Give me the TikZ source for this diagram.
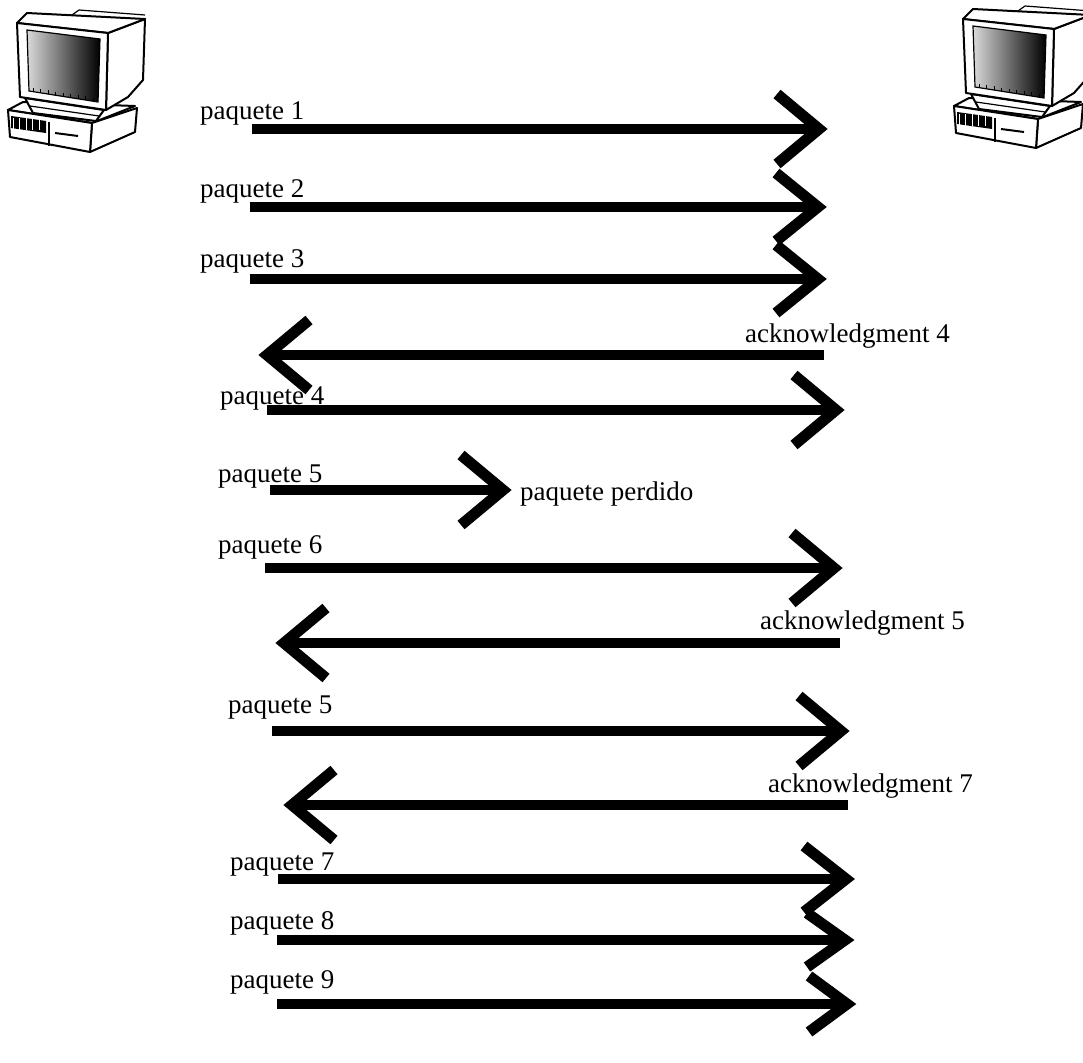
\documentclass[tikz,border=0pt]{standalone}
\usepackage{fontspec}
\setmainfont{Liberation Serif}
\usetikzlibrary{calc}
\begin{document}
\begin{tikzpicture}[x=1pt,y=-1pt,
  shaft/.style={line width=10pt, line cap=butt},
  barb/.style={line width=11pt, line cap=butt, line join=miter},
  lbl/.style={anchor=base west, inner sep=0pt, font=\fontsize{27}{27}\selectfont},
  pcline/.style={line width=2pt, line join=round, fill=white},
  computer/.pic={
    % desktop base unit
    \draw[pcline] (8,110) -- (23,102) -- (135,106) -- (92,123) -- cycle;
    \draw[pcline] (92,123) -- (137,108) -- (135,132) -- (90,152) -- cycle;
    \draw[pcline] (8,110) -- (92,123) -- (90,152) -- (10,137) -- cycle;
    \fill[black] (11,116) -- (46,121) -- (46,133) -- (11,128) -- cycle;
    \foreach \i in {0,...,4}{\draw[white,line width=0.8pt] ($(13,117)+(6.5*\i,1)$) -- ++(0,12);}
    \draw[line width=1.2pt] (49,122) -- (49,146);
    \draw[line width=2pt] (55,133) -- (78,136);
    % monitor stand
    \draw[pcline] (25,98) -- (33,113) -- (96,121) -- (104,110) -- cycle;
    \draw[line width=1.2pt] (30,106) -- (99,116);
    % monitor body
    \draw[pcline] (108,33) -- (145,19) -- (143,80) -- (128,97) -- (106,110) -- cycle;
    \draw[pcline] (17,23) -- (27,13) -- (145,19) -- (108,33) -- cycle;
    \draw[line width=1.2pt] (72,15) -- (79,10) -- (145,15);
    \draw[pcline] (17,23) -- (108,33) -- (106,110) -- (20,97) -- cycle;
    % picture tube
    \shade[left color=gray!30, right color=black, draw=black, line width=1.2pt]
      (27,30) -- (100,39) -- (98,102) -- (29,91) -- cycle;
    \foreach \i in {0,...,8}{\draw[black,line width=0.8pt] ($(33,88)+(7.5*\i,1.2*\i)$) -- ++(0,4);}
  }]
\useasboundingbox (0,0) rectangle (1083,1062);

% the two hosts
\pic (hostA) at (0,0) {computer};
\pic (hostB) at (946,-4) {computer};

% end points of the transmissions
\coordinate (s1)  at (252,129);  \coordinate (e1)  at (819,129);
\coordinate (s2)  at (250,207);  \coordinate (e2)  at (818,207);
\coordinate (s3)  at (250,279);  \coordinate (e3)  at (818,279);
\coordinate (s4)  at (824,355);  \coordinate (e4)  at (267,355);
\coordinate (s5)  at (267,410);  \coordinate (e5)  at (836,410);
\coordinate (s6)  at (270,490);  \coordinate (e6)  at (503,490);
\coordinate (s7)  at (265,568);  \coordinate (e7)  at (834,568);
\coordinate (s8)  at (840,643);  \coordinate (e8)  at (284,643);
\coordinate (s9)  at (272,731);  \coordinate (e9)  at (841,731);
\coordinate (s10) at (848,805);  \coordinate (e10) at (292,805);
\coordinate (s11) at (278,879);  \coordinate (e11) at (846,879);
\coordinate (s12) at (277,940);  \coordinate (e12) at (845,940);
\coordinate (s13) at (277,1004); \coordinate (e13) at (847,1004);

% rightward transmissions: index / head length / head half-height
\foreach \k/\l/\h in {1/42/35,2/42/34,3/42/34,5/42/35,6/42/35,7/42/35,9/42/35,11/42/33,12/38/27,13/38/28}{
  \draw[shaft] (s\k) -- (e\k);
  \draw[barb] ($(e\k)+(-\l,-\h)$) -- (e\k) -- ($(e\k)+(-\l,\h)$);
}
% acknowledgments going back
\foreach \k in {4,8,10}{
  \draw[shaft] (s\k) -- (e\k);
  \draw[barb] ($(e\k)+(42,-35)$) -- (e\k) -- ($(e\k)+(42,35)$);
}

% labels
\node[lbl] (l1)  at (200,120) {paquete 1};
\node[lbl] (l2)  at (200,197) {paquete 2};
\node[lbl] (l3)  at (200,267) {paquete 3};
\node[lbl] (l4)  at (745,342) {acknowledgment 4};
\node[lbl] (l5)  at (220,404) {paquete 4};
\node[lbl] (l6)  at (218,482) {paquete 5};
\node[lbl] (l6b) at (520,500) {paquete perdido};
\node[lbl] (l7)  at (218,553) {paquete 6};
\node[lbl] (l8)  at (760,629) {acknowledgment 5};
\node[lbl] (l9)  at (228,713) {paquete 5};
\node[lbl] (l10) at (768,792) {acknowledgment 7};
\node[lbl] (l11) at (230,870) {paquete 7};
\node[lbl] (l12) at (230,929) {paquete 8};
\node[lbl] (l13) at (230,988) {paquete 9};
\end{tikzpicture}
\end{document}
